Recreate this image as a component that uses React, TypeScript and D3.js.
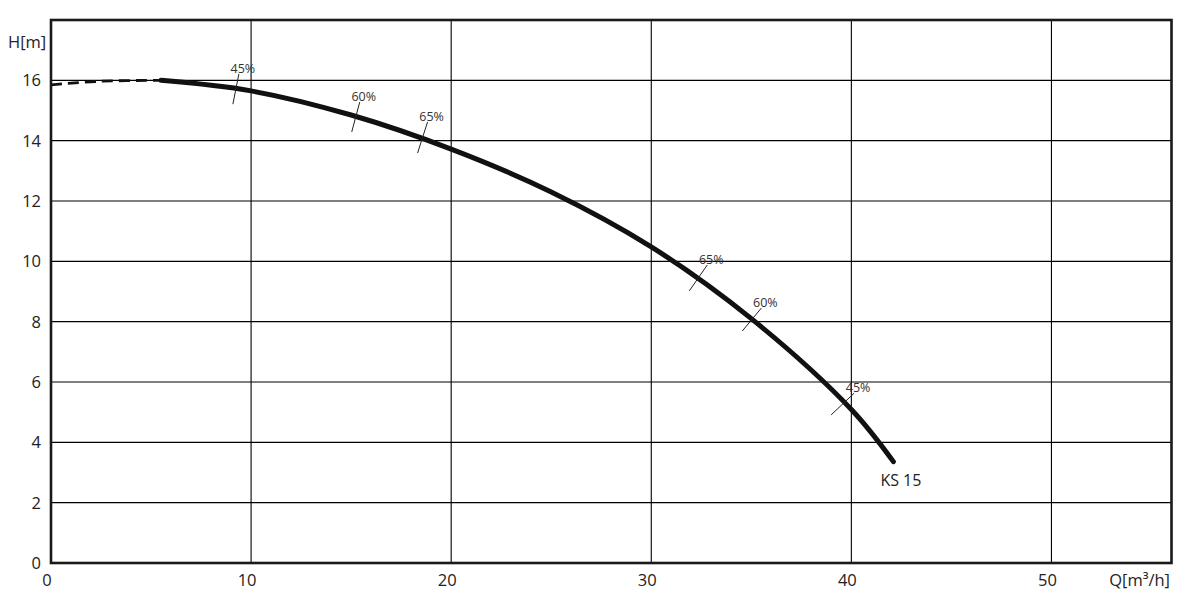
import React from "react";
import * as d3 from "d3";

const W = 1193;
const H = 598;

const xTicks = [0, 10, 20, 30, 40, 50];
const yTicks = [0, 2, 4, 6, 8, 10, 12, 14, 16];

// pump curve KS 15 (Q in m³/h, H in m)
const dashedQ = [0, 2.5, 5.5];
const dashedH = [15.85, 15.97, 16.0];
const solidQ = [5.5, 10, 15, 20, 25, 30, 35, 40, 42.1];
const solidH = [16.0, 15.65, 14.85, 13.72, 12.3, 10.48, 8.1, 5.09, 3.36];

// efficiency marks: tick segment endpoints (q1,h1)->(q2,h2)
const effLabels = ["45%", "60%", "65%", "65%", "60%", "45%"];
const effQ1 = [9.09, 15.03, 18.32, 31.9, 34.55, 38.99];
const effH1 = [15.21, 14.29, 13.59, 9.02, 7.69, 4.91];
const effQ2 = [9.39, 15.43, 18.82, 32.8, 35.5, 40.14];
const effH2 = [16.21, 15.28, 14.62, 9.88, 8.45, 5.63];

const curveName = "KS 15";

export default function App() {
  const margin = { left: 51, right: 21.5, top: 20, bottom: 35 };
  const x = d3.scaleLinear().domain([0, 56]).range([margin.left, W - margin.right]);
  const y = d3.scaleLinear().domain([0, 18]).range([H - margin.bottom, margin.top]);

  const line = d3
    .line<[number, number]>()
    .x((d) => x(d[0]))
    .y((d) => y(d[1]))
    .curve(d3.curveCatmullRom.alpha(0.5));

  const dashed = dashedQ.map((q, i) => [q, dashedH[i]] as [number, number]);
  const solid = solidQ.map((q, i) => [q, solidH[i]] as [number, number]);
  const font = "'Open Sans', 'DejaVu Sans', sans-serif";
  const last = solid[solid.length - 1];

  return (
    <svg
      width={W}
      height={H}
      style={{ position: "absolute", left: 0, top: 0, background: "#fff" }}
      fontFamily={font}
    >
      <rect x={0} y={0} width={W} height={H} fill="#fff" />
      {xTicks
        .filter((t) => t > 0)
        .map((t) => (
          <line key={"gx" + t} x1={x(t)} x2={x(t)} y1={y(0)} y2={y(18)} stroke="#000" strokeWidth={1.1} />
        ))}
      {yTicks
        .filter((t) => t > 0)
        .map((t) => (
          <line key={"gy" + t} x1={x(0)} x2={x(56)} y1={y(t)} y2={y(t)} stroke="#000" strokeWidth={1.1} />
        ))}
      <rect
        x={x(0)}
        y={y(18)}
        width={x(56) - x(0)}
        height={y(0) - y(18)}
        fill="none"
        stroke="#1a1a1a"
        strokeWidth={2.6}
      />
      {yTicks.map((t) => (
        <text key={"ty" + t} x={41} y={y(t) + 6} textAnchor="end" fontSize={16.5} fill="#222">
          {t}
        </text>
      ))}
      {xTicks.map((t) => (
        <text key={"tx" + t} x={x(t) - 4} y={586} textAnchor="middle" fontSize={16.5} fill="#222">
          {t}
        </text>
      ))}
      <text x={8} y={48} fontSize={16.5} fill="#222">
        H[m]
      </text>
      <text x={1170} y={586} textAnchor="end" fontSize={16.5} fill="#222">
        Q[m³/h]
      </text>

      <path d={line(dashed) || ""} fill="none" stroke="#111" strokeWidth={2.8} strokeDasharray="11,6" />
      <path d={line(solid) || ""} fill="none" stroke="#111" strokeWidth={5} strokeLinecap="round" />

      {effLabels.map((lab, i) => (
        <g key={"e" + i}>
          <line
            x1={x(effQ1[i])}
            y1={y(effH1[i])}
            x2={x(effQ2[i])}
            y2={y(effH2[i])}
            stroke="#222"
            strokeWidth={1}
          />
          <text x={x(effQ2[i]) + 4} y={y(effH2[i]) - 1} textAnchor="middle" fontSize={12.5} fill="#333">
            {lab}
          </text>
        </g>
      ))}
      <text x={x(last[0]) - 13} y={486} fontSize={16} fill="#222">
        {curveName}
      </text>
    </svg>
  );
}
